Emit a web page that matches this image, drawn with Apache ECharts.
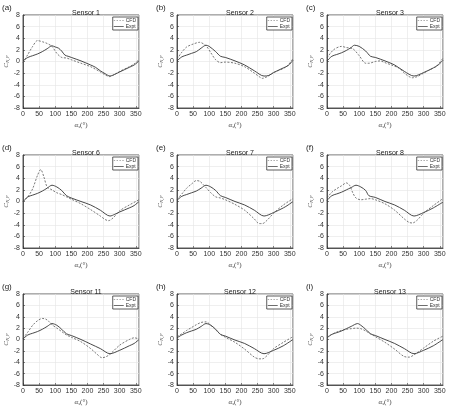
<!DOCTYPE html>
<html>
<head>
<meta charset="utf-8">
<script src="https://cdn.jsdelivr.net/npm/echarts@6/dist/echarts.min.js"></script>
<style>
  html, body { margin: 0; padding: 0; background: #fff; }
  #chart { width: 449px; height: 407px; }
</style>
</head>
<body>
<div id="chart"></div>
<script>
const panelLabels = ["(a)", "(b)", "(c)", "(d)", "(e)", "(f)", "(g)", "(h)", "(i)"];
const sensorNames = ["Sensor 1", "Sensor 2", "Sensor 3", "Sensor 6", "Sensor 7", "Sensor 8", "Sensor 11", "Sensor 12", "Sensor 13"];
const xTicks = [0, 50, 100, 150, 200, 250, 300, 350];
const yTicks = [-8, -6, -4, -2, 0, 2, 4, 6, 8];

// [angle, Cn,p] pairs
const cfd1 = [[0,-0.2],[15,1.2],[30,2.6],[45,3.6],[60,3.4],[75,3.1],[90,2.6],[105,1.4],[120,0.7],[135,0.6],[150,0.3],[180,-0.3],[210,-0.9],[240,-1.8],[255,-2.3],[268,-2.6],[285,-2.2],[300,-1.7],[330,-0.9],[345,-0.4],[360,0.3]];
const expt1 = [[0,0.1],[15,0.7],[30,1.0],[45,1.3],[60,1.7],[75,2.2],[90,2.7],[100,2.5],[110,2.3],[120,1.8],[130,1.1],[140,0.9],[150,0.7],[180,0.1],[210,-0.6],[225,-1.0],[240,-1.6],[255,-2.1],[270,-2.5],[285,-2.2],[300,-1.8],[330,-1.0],[345,-0.6],[360,0.1]];
const cfd2 = [[0,0.4],[15,1.6],[30,2.5],[50,3.0],[70,3.3],[90,2.7],[105,1.5],[120,0.3],[135,-0.2],[150,-0.1],[180,-0.3],[210,-0.9],[240,-2.0],[255,-2.6],[265,-2.9],[280,-2.6],[300,-1.9],[330,-1.2],[345,-0.6],[360,0.5]];
const expt2 = [[0,0.1],[15,0.8],[30,1.1],[45,1.4],[60,1.7],[75,2.3],[90,2.8],[100,2.6],[120,1.7],[135,0.9],[150,0.7],[180,0.1],[210,-0.6],[240,-1.6],[270,-2.5],[285,-2.4],[300,-1.9],[330,-1.1],[345,-0.7],[360,0.2]];
const cfd3 = [[0,0.6],[20,2.0],[45,2.6],[60,2.4],[80,2.2],[100,1.0],[120,-0.3],[130,-0.3],[150,0.0],[165,0.1],[180,-0.2],[200,-0.6],[225,-1.2],[240,-2.0],[255,-2.6],[265,-2.8],[280,-2.6],[300,-2.0],[320,-1.4],[340,-0.8],[360,0.6]];
const expt3 = [[0,0.1],[15,0.9],[30,1.2],[45,1.5],[60,1.9],[75,2.4],[85,2.8],[100,2.6],[120,1.8],[135,0.9],[150,0.7],[180,0.1],[210,-0.6],[240,-1.7],[270,-2.5],[300,-1.9],[330,-1.1],[345,-0.6],[360,0.2]];
const cfd6 = [[0,0.0],[15,0.8],[30,2.2],[45,4.5],[55,5.5],[65,4.2],[75,2.5],[90,2.0],[105,1.5],[120,1.2],[135,0.8],[150,0.4],[180,-0.4],[210,-1.4],[240,-2.5],[255,-3.1],[265,-3.3],[280,-2.8],[300,-1.6],[330,-0.6],[360,0.3]];
const expt6 = [[0,0.0],[15,0.8],[30,1.1],[45,1.4],[60,1.8],[75,2.3],[90,2.8],[105,2.5],[120,1.9],[135,1.0],[150,0.6],[180,0.0],[210,-0.6],[240,-1.5],[270,-2.5],[285,-2.2],[300,-1.8],[330,-1.1],[345,-0.7],[360,0.0]];
const cfd7 = [[0,0.4],[15,1.3],[30,2.3],[45,3.0],[60,3.6],[70,3.5],[80,3.0],[90,2.4],[105,1.5],[120,0.8],[135,0.6],[150,0.3],[180,-0.5],[210,-1.5],[240,-3.0],[255,-3.8],[265,-3.8],[280,-3.2],[300,-2.0],[330,-0.6],[360,0.5]];
const expt7 = [[0,0.2],[15,0.9],[30,1.2],[45,1.5],[60,1.8],[75,2.3],[90,2.8],[105,2.5],[120,1.9],[135,1.0],[150,0.7],[180,0.0],[210,-0.6],[240,-1.5],[270,-2.5],[300,-1.9],[330,-1.1],[345,-0.6],[360,0.0]];
const cfd8 = [[0,0.6],[15,1.6],[30,2.2],[45,2.7],[60,3.2],[70,2.8],[80,1.5],[90,0.6],[105,0.3],[120,0.4],[135,0.5],[150,0.3],[180,-0.4],[210,-1.5],[240,-3.0],[255,-3.6],[265,-3.7],[280,-3.2],[300,-2.0],[330,-0.7],[360,0.5]];
const expt8 = [[0,0.2],[15,1.0],[30,1.3],[45,1.6],[60,2.0],[75,2.4],[90,2.8],[105,2.5],[120,1.9],[130,1.0],[150,0.7],[180,0.0],[210,-0.6],[240,-1.5],[270,-2.5],[300,-1.9],[330,-1.1],[360,-0.1]];
const cfd11 = [[0,0.2],[15,1.3],[30,2.5],[45,3.3],[60,3.7],[70,3.6],[80,3.2],[90,2.6],[105,2.0],[120,1.4],[135,0.8],[150,0.4],[180,-0.4],[210,-1.6],[230,-2.6],[245,-3.2],[255,-3.1],[270,-2.6],[300,-1.0],[330,0.0],[345,0.3],[360,0.1]];
const expt11 = [[0,0.1],[15,0.8],[30,1.1],[45,1.4],[60,1.8],[75,2.3],[90,2.8],[105,2.5],[120,1.8],[135,1.0],[150,0.7],[180,0.0],[210,-0.8],[240,-1.6],[270,-2.5],[300,-1.9],[330,-1.1],[345,-0.7],[360,0.0]];
const cfd12 = [[0,0.5],[15,1.0],[30,1.6],[45,2.1],[60,2.6],[75,3.0],[90,3.1],[105,2.5],[120,1.7],[135,0.9],[150,0.4],[180,-0.5],[210,-1.7],[240,-3.1],[255,-3.4],[265,-3.4],[280,-2.8],[300,-1.6],[330,-0.5],[360,0.5]];
const expt12 = [[0,0.3],[15,0.8],[30,1.2],[45,1.5],[60,1.8],[75,2.3],[90,2.8],[105,2.5],[120,1.8],[135,0.9],[150,0.6],[180,-0.1],[210,-0.7],[240,-1.6],[270,-2.5],[300,-1.9],[330,-1.1],[360,0.0]];
const cfd13 = [[0,0.4],[15,0.9],[30,1.3],[45,1.6],[60,1.8],[75,1.9],[90,2.0],[105,1.9],[120,1.5],[135,1.0],[150,0.5],[180,-0.5],[210,-1.7],[240,-3.0],[255,-3.1],[270,-2.7],[300,-1.5],[330,-0.3],[360,0.6]];
const expt13 = [[0,0.3],[15,0.9],[30,1.2],[45,1.5],[60,1.9],[75,2.3],[95,2.8],[105,2.5],[120,1.8],[135,1.0],[150,0.7],[180,0.0],[210,-0.7],[240,-1.6],[270,-2.5],[300,-1.9],[330,-1.1],[360,0.0]];

const cfdSets = [cfd1, cfd2, cfd3, cfd6, cfd7, cfd8, cfd11, cfd12, cfd13];
const exptSets = [expt1, expt2, expt3, expt6, expt7, expt8, expt11, expt12, expt13];

const colLeft = [23, 177, 327];
const rowTop = [15, 155, 294];
const plotW = 116, plotH = 93;
const sans = "Liberation Sans";
const serif = "Liberation Serif";

const option = {
  animation: false,
  backgroundColor: "#fff",
  title: [], grid: [], xAxis: [], yAxis: [], series: [], legend: [], graphic: []
};

const nameRich = {
  i: { fontFamily: serif, fontStyle: "italic", fontSize: 7, color: "#444" },
  sub: { fontFamily: serif, fontStyle: "italic", fontSize: 5, color: "#444", verticalAlign: "bottom", padding: [3, 0, 0, 0] }
};
// legend keys: short dashes for CFD, a thin bar for Expt
const dashIcon = "path://M0,0h2v1h-2z M4,0h2v1h-2z M8,0h2v1h-2z M12,0h2v1h-2z";
const lineIcon = "path://M0,0h14v1h-14z";

sensorNames.forEach((name, i) => {
  const left = colLeft[i % 3];
  const top = rowTop[Math.floor(i / 3)];

  option.grid.push({
    left: left, top: top, width: plotW, height: plotH,
    show: true, borderColor: "#333", borderWidth: 0.8, backgroundColor: "#fff"
  });
  option.title.push({
    text: name, left: left + plotW / 2, top: top - 10, textAlign: "center",
    textStyle: { fontFamily: sans, fontSize: 7, fontWeight: "normal", color: "#222" }
  });
  option.graphic.push({
    type: "text", left: left - 21, top: top - 11,
    style: { text: panelLabels[i], font: "8px " + sans, fill: "#222" }
  });
  option.xAxis.push({
    type: "value", gridIndex: i, min: 0, max: 360, interval: 50,
    name: "{i|α}{sub|s}(°)", nameLocation: "middle", nameGap: 13,
    nameTextStyle: { rich: nameRich, fontFamily: serif, fontSize: 7, color: "#444" },
    axisLine: { onZero: false, lineStyle: { color: "#333", width: 0.8 } },
    axisTick: { inside: true, length: 2, lineStyle: { color: "#333", width: 0.6 } },
    axisLabel: { fontFamily: sans, fontSize: 7, color: "#333", margin: 3, showMaxLabel: false,
      formatter: v => xTicks.includes(v) ? String(v) : "" },
    splitLine: { show: true, lineStyle: { color: "#e4e4e4", width: 0.6 } }
  });
  option.yAxis.push({
    type: "value", gridIndex: i, min: -8, max: 8, interval: 2,
    name: "{i|C}{sub|N,P}", nameLocation: "middle", nameGap: 13, nameRotate: 90,
    nameTextStyle: { rich: nameRich, fontFamily: serif, fontSize: 7, color: "#444" },
    axisLine: { onZero: false, lineStyle: { color: "#333", width: 0.8 } },
    axisTick: { inside: true, length: 2, lineStyle: { color: "#333", width: 0.6 } },
    axisLabel: { fontFamily: sans, fontSize: 7, color: "#333", margin: 3,
      formatter: v => yTicks.includes(v) ? String(v) : "" },
    splitLine: { show: true, lineStyle: { color: "#e4e4e4", width: 0.6 } }
  });
  option.series.push({
    name: "CFD", type: "line", xAxisIndex: i, yAxisIndex: i, data: cfdSets[i],
    showSymbol: false, symbol: "none", smooth: 0.3, z: 3,
    lineStyle: { color: "#555", width: 0.8, type: [2, 1.5] }, itemStyle: { color: "#555" }
  });
  option.series.push({
    name: "Expt", type: "line", xAxisIndex: i, yAxisIndex: i, data: exptSets[i],
    showSymbol: false, symbol: "none", smooth: 0.3, z: 2,
    lineStyle: { color: "#333", width: 0.9 }, itemStyle: { color: "#333" }
  });
  option.legend.push({
    data: [
      { name: "CFD", icon: dashIcon, itemStyle: { color: "#555", borderWidth: 0 } },
      { name: "Expt", icon: lineIcon, itemStyle: { color: "#333", borderWidth: 0 } }
    ],
    orient: "vertical", right: 449 - (left + plotW) + 1, top: top + 2,
    itemWidth: 10, itemHeight: 1, itemGap: 1, padding: [1, 2, 1, 1],
    backgroundColor: "#fff", borderColor: "#333", borderWidth: 0.8,
    lineStyle: { width: 0 },
    textStyle: { fontFamily: sans, fontSize: 5, color: "#333", padding: [0, 0, 0, -3] },
    selectedMode: false
  });
});

const chart = echarts.init(document.getElementById("chart"));
chart.setOption(option);
</script>
</body>
</html>
